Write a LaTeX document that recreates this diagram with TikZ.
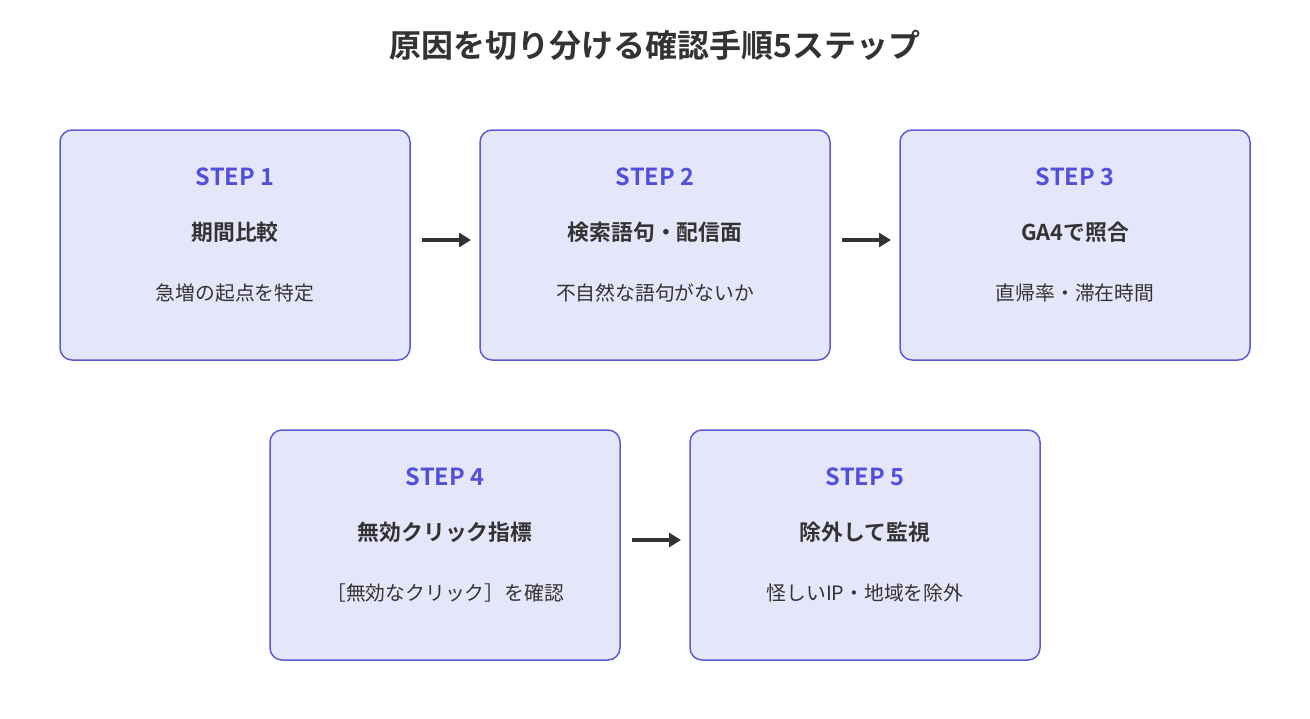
\documentclass[tikz,border=0pt]{standalone}
\usepackage{fontspec}
\setmainfont{Noto Sans CJK JP}[BoldFont={Noto Sans CJK JP Bold}]
\usetikzlibrary{arrows.meta}
\definecolor{bfill}{HTML}{E6E6FA}
\definecolor{bdraw}{HTML}{5B5BD6}
\definecolor{stepc}{HTML}{5050D8}
\definecolor{txt}{HTML}{333333}
\begin{document}
\begin{tikzpicture}[x=1pt,y=-1pt,
 box/.style={draw=bdraw,fill=bfill,line width=1.5pt,rounded corners=12pt,minimum width=350pt,minimum height=230pt,inner sep=0pt},
 steplbl/.style={text=stepc,font=\fontsize{23.5}{26}\selectfont\bfseries},
 ttl/.style={text=txt,font=\fontsize{21.8}{24}\selectfont\bfseries},
 sub/.style={text=txt,font=\fontsize{19.8}{22}\selectfont},
 arr/.style={draw=txt,line width=4pt,-{Triangle[length=12pt,width=14pt]}}]
\useasboundingbox (0,0) rectangle (1310,718);
\node[text=txt,font=\fontsize{32}{36}\selectfont\bfseries] (title) at (655,45) {原因を切り分ける確認手順5ステップ};
\foreach \n/\cx/\cy/\t/\s in {1/235/245/期間比較/急増の起点を特定, 2/655/245/検索語句・配信面/不自然な語句がないか, 3/1075/245/GA4で照合/直帰率・滞在時間, 4/445/545/無効クリック指標/［無効なクリック］を確認, 5/865/545/除外して監視/怪しいIP・地域を除外}{
 \node[box] (b\n) at (\cx,\cy) {};
 \node[steplbl] (s\n) at (\cx,\cy-68) {STEP \n};
 \node[ttl] (t\n) at (\cx,\cy-13) {\t};
 \node[sub] (u\n) at (\cx,\cy+48) {\s};
}
\coordinate (a1s) at (422,240); \coordinate (a1e) at (471,240);
\coordinate (a2s) at (842,240); \coordinate (a2e) at (891,240);
\coordinate (a3s) at (632,540); \coordinate (a3e) at (681,540);
\draw[arr] (a1s) -- (a1e);
\draw[arr] (a2s) -- (a2e);
\draw[arr] (a3s) -- (a3e);
\end{tikzpicture}
\end{document}
